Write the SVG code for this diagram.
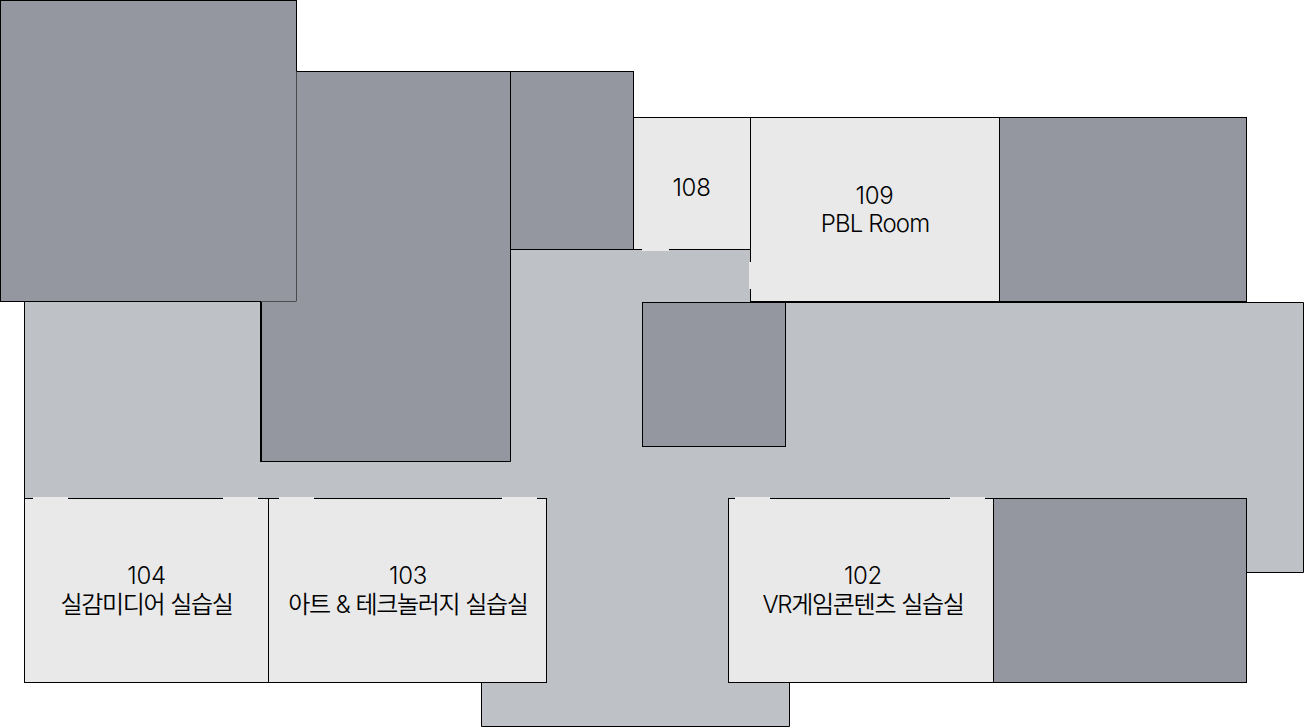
<svg xmlns="http://www.w3.org/2000/svg" width="1304" height="727" viewBox="0 0 1304 727">
<style>
.w{stroke:#000;stroke-width:1}
.d{fill:#94979f}
.r{fill:#e9e9ea}
.c{fill:#bec1c6}
.door{fill:#e9e9ea;stroke:none}
text{font-family:"Inter","Noto Sans CJK KR",sans-serif;fill:#000;text-anchor:middle;font-size:24px;font-weight:350}
.n{letter-spacing:-0.3px}
.l{letter-spacing:-1.3px;word-spacing:0.5px}
</style>
<rect width="1304" height="727" fill="#fff"/>
<g id="corridor">
<path class="c w" d="M24.5 301.5H296.5V249.5H750.5V302.5H1303.5V572.5H1246.5V682.5H789.5V726.5H481.5V682.5H24.5Z"/>
</g>
<g id="room-a"><rect class="d w" x="0.5" y="0.5" width="296" height="301"/></g>
<g id="room-b"><path class="d" d="M261 301.5H296.5V71H510.5V461.5H261Z"/><path class="w" fill="none" d="M296.5 71.5H510.5V461.5H261"/><rect x="260" y="302" width="2" height="160" fill="#000"/></g>
<g id="room-c"><rect class="d w" x="510.5" y="71.5" width="123" height="178"/></g>
<g id="room-108"><rect class="r w" x="633.5" y="117.5" width="117" height="132"/><rect class="door" x="642" y="248" width="27" height="3"/><text class="n" x="691.5" y="195.500">108</text></g>
<g id="room-109"><rect class="r w" x="750.5" y="117.5" width="249" height="184"/><rect class="door" x="749" y="262" width="3" height="27"/><text class="n" x="874.5" y="203.500">109</text><text x="875" y="232" letter-spacing="-0.85">PBL Room</text></g>
<g id="room-d"><rect class="d w" x="999.5" y="117.5" width="247" height="184"/></g>
<g id="room-e"><rect class="d w" x="642.5" y="302.5" width="143" height="144"/></g>
<g id="room-104"><rect class="r w" x="24.5" y="498.5" width="244" height="184"/><rect class="door" x="33" y="497" width="35" height="3"/><rect class="door" x="223" y="497" width="35" height="3"/><text class="n" x="146.5" y="584">104</text><text class="l" x="146.5" y="612.500">실감미디어 실습실</text></g>
<g id="room-103"><rect class="r w" x="268.5" y="498.5" width="278" height="184"/><rect class="door" x="279" y="497" width="35" height="3"/><rect class="door" x="502" y="497" width="35" height="3"/><text class="n" x="408" y="584">103</text><text class="l" x="408" y="612.500">아트 &amp; 테크놀러지 실습실</text></g>
<g id="room-102"><rect class="r w" x="728.5" y="498.5" width="265" height="184"/><rect class="door" x="735" y="497" width="35" height="3"/><rect class="door" x="950" y="497" width="35" height="3"/><text class="n" x="863" y="584">102</text><text class="l" x="863" y="612.500">VR게임콘텐츠 실습실</text></g>
<g id="room-f"><rect class="d w" x="993.5" y="498.5" width="253" height="184"/></g>
</svg>
